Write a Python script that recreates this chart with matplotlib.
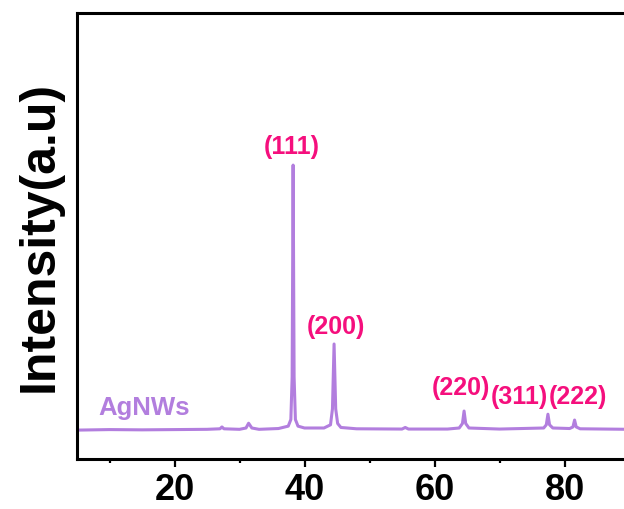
import matplotlib
matplotlib.use("Agg")
import matplotlib.pyplot as plt

# 2-theta (deg) and relative intensity
two_theta = [5, 10, 15, 20, 25, 27.0, 27.3, 27.6, 30, 31.0, 31.4, 31.9, 33, 36,
             37.5, 37.9, 38.1, 38.25, 38.4, 38.6, 39.0, 40, 43,
             44.0, 44.3, 44.55, 44.8, 45.1, 45.6, 48, 55, 55.5, 56, 62,
             63.8, 64.3, 64.55, 64.8, 65.3, 70,
             76.8, 77.2, 77.45, 77.7, 78.2,
             80.8, 81.3, 81.55, 81.8, 82.4, 90, 96]
intensity = [0.0, 0.2, 0.1, 0.2, 0.3, 0.5, 1.2, 0.5, 0.3, 0.8, 2.6, 0.8, 0.3, 0.6,
             1.5, 4.0, 20.0, 100.0, 20.0, 4.0, 1.5, 0.8, 0.8,
             2.0, 8.0, 32.5, 8.0, 2.5, 1.0, 0.5, 0.4, 1.0, 0.4, 0.4,
             0.8, 2.5, 7.2, 2.5, 0.8, 0.4,
             0.8, 2.0, 6.0, 2.0, 0.8,
             0.6, 1.2, 3.8, 1.2, 0.5, 0.3, 0.3]

peak_labels = ["(111)", "(200)", "(220)", "(311)", "(222)"]
label_x = [38.0, 44.8, 64.0, 73.0, 82.0]
label_y = [107.0, 39.0, 16.0, 12.5, 12.5]

sample_name = "AgNWs"
x_ticks = [20, 40, 60, 80]

line_color = "#B27EDE"
label_color = "#F50F7D"

plt.rcParams['font.family'] = ['Liberation Sans', 'DejaVu Sans']
plt.rcParams['font.weight'] = 'bold'

fig = plt.figure(figsize=(6.24, 5.09), dpi=100)
W, H = 624, 509
left_px, right_px = 77, 77 + 85 * 6.5
top_px, bottom_px = 13, 459
ax = fig.add_axes([left_px / W, 1 - bottom_px / H, (right_px - left_px) / W, (bottom_px - top_px) / H])

ax.plot(two_theta, intensity, color=line_color, lw=2.2)

for lab, lx, ly in zip(peak_labels, label_x, label_y):
    ax.text(lx, ly, lab, color=label_color, fontsize=18, fontweight='bold',
            ha='center', va='center')

ax.text(8.3, 4.0, sample_name, color=line_color, fontsize=18.5, fontweight='bold',
        ha='left', va='bottom')

ax.set_xlim(5, 90)
ax.set_ylim(-10.9, 157.4)
ax.set_xticks(x_ticks)
ax.set_xticks([10, 30, 50, 70, 90], minor=True)
ax.set_yticks([])
ax.tick_params(axis='x', which='major', length=6, width=1.6, direction='out',
               labelsize=26, pad=4)
ax.tick_params(axis='x', which='minor', length=3, width=1.6, direction='out')
for lbl in ax.get_xticklabels():
    lbl.set_fontweight('bold')
for s in ax.spines.values():
    s.set_linewidth(2.2)

ax.set_ylabel("Intensity(a.u)", fontsize=36, fontweight='bold', labelpad=10)

fig.savefig("out.png", dpi=100)
